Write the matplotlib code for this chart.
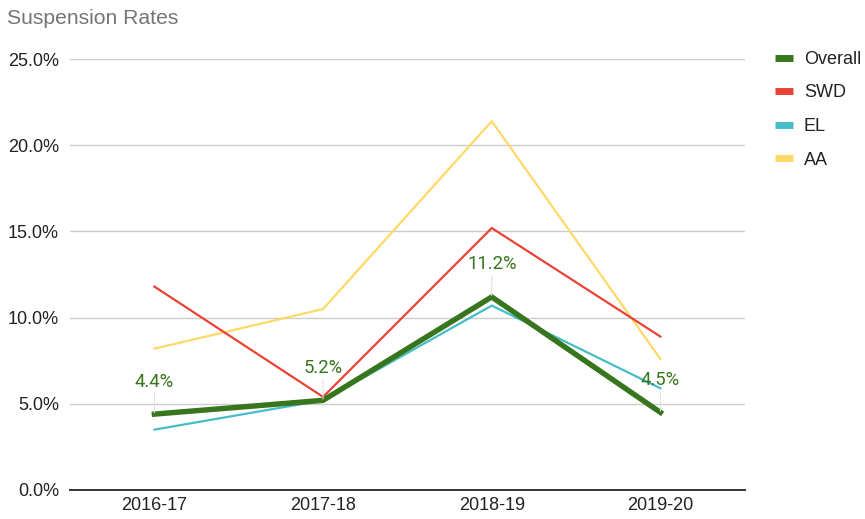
import matplotlib
matplotlib.use("Agg")
import matplotlib.pyplot as plt
from matplotlib.ticker import FuncFormatter

# 학년도별 정학률 (%)
years = ["2016-17", "2017-18", "2018-19", "2019-20"]
overall = [4.4, 5.2, 11.2, 4.5]
swd = [11.8, 5.4, 15.2, 8.9]
el = [3.5, 5.2, 10.7, 5.9]
aa = [8.2, 10.5, 21.4, 7.6]

plt.rcParams['font.family'] = ['Liberation Sans', 'DejaVu Sans']

fig = plt.figure(figsize=(8.65, 5.19), dpi=100)
ax = fig.add_axes([0.081, 0.056, 0.780, 0.830])

x = list(range(len(years)))
ax.plot(x, aa, color='#ffd966', lw=1.6, label='AA', zorder=3)
ax.plot(x, el, color='#46bdc6', lw=1.6, label='EL', zorder=4)
ax.plot(x, swd, color='#ea4335', lw=1.6, label='SWD', zorder=5)
ax.plot(x, overall, color='#38761d', lw=3.9, label='Overall', zorder=6,
        solid_joinstyle='miter')

# 데이터 라벨 (Overall)
for i, v in zip(x, overall):
    ax.annotate(f"{v:.1f}%", xy=(i, v), xytext=(0, 17), textcoords='offset points',
                ha='center', va='bottom', color='#38761d', fontsize=13.3,
                family=['Roboto', 'DejaVu Sans'], zorder=7,
                arrowprops=dict(arrowstyle='-', color='#e0e0e0', lw=0.8,
                                shrinkA=0, shrinkB=1))

ax.set_xlim(-0.5, 3.5)
ax.set_ylim(0, 25)
ax.set_yticks([0, 5, 10, 15, 20, 25])
ax.yaxis.set_major_formatter(FuncFormatter(lambda v, p: f"{v:.1f}%"))
ax.set_xticks(x)
ax.set_xticklabels(years)
ax.tick_params(axis='both', length=0, labelsize=13, colors='#222222')
ax.tick_params(axis='y', pad=8)
ax.tick_params(axis='x', pad=5)

ax.grid(axis='y', color='#cccccc', lw=1)
ax.set_axisbelow(True)
for s in ['left', 'right', 'top']:
    ax.spines[s].set_visible(False)
ax.spines['bottom'].set_color('#333333')
ax.spines['bottom'].set_linewidth(1.4)
ax.spines['bottom'].set_zorder(8)

fig.text(0.008, 0.965, "Suspension Rates", color='#757575', fontsize=15.2,
         ha='left', va='center')

handles, labels = ax.get_legend_handles_labels()
order = [3, 2, 1, 0]
leg = ax.legend([handles[i] for i in order], [labels[i] for i in order],
                loc='upper left', bbox_to_anchor=(1.034, 1.036), frameon=False,
                fontsize=13, handlelength=1.0, handletextpad=0.6,
                labelspacing=0.92, borderaxespad=0, labelcolor='#222222')
for h in leg.get_lines():
    h.set_linewidth(5)
    h.set_solid_capstyle('butt')

fig.savefig("out.png", dpi=100)
